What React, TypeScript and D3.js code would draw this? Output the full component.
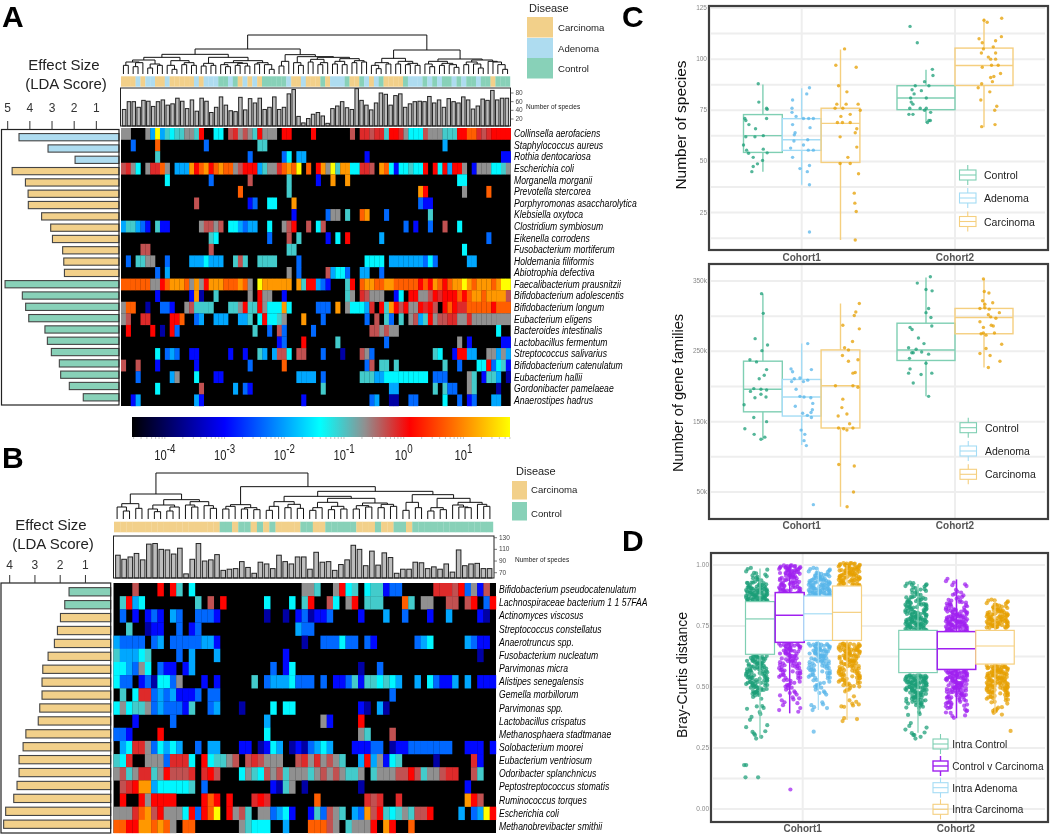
import React from 'react';
import * as d3 from 'd3';

// ---- palette ----
const CARC = '#f2d08a';
const ADEN = '#aedcf0';
const CTRL = '#88d1b8';
const groupFill: Record<string, string> = { C: CARC, A: ADEN, N: CTRL };
const SANS = "'Liberation Sans', Arial, sans-serif";

// abundance colour map: log10 relative abundance -> colour
const colorLogs = [-4.55, -3.0, -1.4, -0.65, 0.1, 1.78];
const colorHex = ['#000000', '#0000ff', '#00ffff', '#909090', '#ff0000', '#ffff00'];
// one letter per abundance class (log10 value)
const abundanceCode: Record<string, number> = {
  d: -3.55, b: -2.95, a: -2.35, l: -1.95, c: -1.45, t: -1.05, g: -0.65,
  m: -0.32, r: -0.12, R: 0.12, o: 0.72, O: 1.1, y: 1.78,
};

// ---- panel A ----
const speciesA = [
  'Collinsella aerofaciens', 'Staphylococcus aureus', 'Rothia dentocariosa', 'Escherichia coli',
  'Morganella morganii', 'Prevotella stercorea', 'Porphyromonas asaccharolytica', 'Klebsiella oxytoca',
  'Clostridium symbiosum', 'Eikenella corrodens', 'Fusobacterium mortiferum', 'Holdemania filiformis',
  'Abiotrophia defectiva', 'Faecalibacterium prausnitzii', 'Bifidobacterium adolescentis',
  'Bifidobacterium longum', 'Eubacterium eligens', 'Bacteroides intestinalis', 'Lactobacillus fermentum',
  'Streptococcus salivarius', 'Bifidobacterium catenulatum', 'Eubacterium hallii',
  'Gordonibacter pamelaeae', 'Anaerostipes hadrus',
];
const ldaA = [4.49, 3.18, 1.96, 4.8, 4.2, 4.08, 4.07, 3.47, 3.06, 2.98, 2.52, 2.47, 2.44, 5.12, 4.34, 4.19, 4.05, 3.32, 3.21, 3.03, 2.67, 2.61, 2.22, 1.59];
const ldaGroupA = 'AAACCCCCCCCCCNNNNNNNNNNN';
const annotA = 'CCCACAACCACCCCCACAAANNANCACACNNNNNACCACCCNCAAANCCNACANCCCCNAAANANANNANANNANNCNNN';
const richnessA = [42, 60, 60, 47, 63, 61, 49, 60, 64, 52, 55, 68, 61, 44, 64, 38, 68, 61, 35, 47, 71, 52, 39, 37, 70, 41, 67, 57, 68, 42, 47, 71, 42, 47, 78, 88, 26, 11, 21, 31, 35, 27, 10, 44, 50, 60, 46, 42, 90, 63, 52, 41, 57, 80, 77, 52, 74, 78, 47, 55, 60, 61, 60, 72, 57, 64, 47, 67, 60, 57, 71, 64, 43, 50, 66, 63, 86, 64, 68, 68];
const heatA = [
  '0:gg 5:glyl 9:tctt 13:ggt 16:R 19:cc 22:mrgmgt 28:R 29:ggg 33:RR 39:R 47:m 49:rrmrr 54:t 55:RRr 58:g 59:ccc 62:m 63:gggt 67:tt 69:RR 71:oo 73:rmr 76:RRRR',
  '2:a 7:o 17:a 28:tt 66:l',
  '7:t 26:a 33:ac 36:ll 50:b 78:bb',
  '0:mrg 3:c 5:grrog 11:lll 14:O 15:Ro 17:O 18:R 19:oOoo 23:gm 25:RRR 28:lt 30:gg 32:r 33:oOo 36:y 38:o 40:RO 42:g 43:y 44:t 45:OO 47:cc 49:rrm 53:O 54:o 55:cb 57:cctcc 62:R 64:R 65:c 66:R 67:l 68:RR 70:g 72:b 73:ggg 76:cc 78:tg',
  '9:c 18:a 26:m 34:t 40:b 43:O 46:O 69:cc',
  '24:o 34:t 61:OR 70:g 75:o',
  '15:m 26:ba 30:cc 35:O 61:abb',
  '35:b 42:agg 46:t 49:oO 54:a 63:t',
  '0:lttlab 7:t 8:bb 16:gmmgm 22:cc 24:lall 30:c 33:gmR 38:m 40:cm 58:a 60:b 63:a 66:m 69:c',
  '18:tc 30:a 34:m 36:t 42:b 44:c 46:R 53:l 75:a',
  '4:mm 18:m 34:tt 70:c',
  '1:a 3:ttgg 9:a 14:lllclll 23:tmt 28:tttt 36:a 50:cccc 55:lllllll 62:aca 71:ll',
  '7:a 9:l 34:g 36:a 42:m 43:lcca 49:ll 53:a',
  '0:oooooo 6:gg 8:Ro 10:OOOo 14:gOg 17:RO 19:OOo 22:ooOo 26:g 28:y 29:OOOOOO 36:Ot 38:RR 40:lab 46:tR 49:oOOooOOoooooRoROoRoOOyOoOOOoOyy',
  '7:b 14:bOd 19:t 26:g 28:Rgg 33:b 46:tg 49:rmggg 56:bc 59:RR 61:ggm 64:RrR 67:RRoR 71:oOOoOOOOm',
  '0:goo 5:d 8:aa 10:b 13:gm 15:tttt 22:ttg 25:R 26:tt 28:Rg 30:ccc 33:Oc 40:aaa 44:O 46:g 47:cccl 51:r 53:RtORmRgg 61:RrRm 66:RoRrroooooRooo',
  '0:gm 4:rr 10:RRo 15:al 19:lll 24:ll 26:t 28:cRcc 32:tg 37:O 41:a 50:a 52:m 54:ta 57:t 59:gmlt 63:Rgm 66:mrrggrgggggggg',
  '1:R 6:R 8:d 10:Ra 27:t 30:a 32:ma 39:a 51:mmgmgg 77:c',
  '32:ba 37:R 44:t 54:a 69:g 71:b 78:bb',
  '7:c 9:ala 14:bb 22:b 25:b 28:tl 31:lmmc 36:mm 41:a 45:d 49:mga 64:tc 68:b 69:RR 71:ll 75:gglgl',
  '0:m 3:m 7:b 15:b 26:a 33:o 50:am 53:tt 56:t 66:t 69:a 73:ccRactb',
  '3:a 10:lg 15:c 19:bb 36:llll 41:a 49:tttllccccccccc 64:aaa 71:gt 74:bttl 79:d',
  '7:c 16:m 23:l 25:ab 41:t 55:ll 64:t 66:t 67:aa 71:gt 77:d',
  '2:bl 15:lb 37:b 51:al 55:dd 59:aa 66:c 69:a 71:ba 76:ll',
];
// [merge height, ...children], 0 = leaf
const treeA: any = [117,
  [75,
    [59,
      [50,
        [42, [36, [26, 0, 0], [34, [22, 0, 0], 0]], [30, [18, 0, 0], [26, 0, 0]]],
        [40, [26, 0, [14, 0, 0]], [34, [28, 0, 0], [26, 0, 0]]]],
      [50,
        [32, [24, 0, 0], [26, 0, 0]],
        [40, [34, [28, 0, [22, 0, 0]], [32, [26, 0, 0], [24, 0, 0]]], [34, [30, 0, 0], [28, 0, [14, 0, 0]]]]]],
    [58,
      [38, [24, 0, 0], 0],
      [52, [34, 0, [26, 0, 0]],
        [50, [44, [36, 0, 0], [34, [28, 0, 0], 0]],
          [46, [38, [30, 0, 0], [28, 0, 0]], [40, [34, 0, 0], [36, 0, 0]]]]]]],
  [72,
    [47, [34, [26, 0, [16, 0, 0]], [30, 0, 0]], [38, [30, 0, 0], [32, [28, 0, 0], [26, 0, 0]]]],
    [45, [38, [30, 0, [22, 0, 0]], [32, [26, 0, 0], [28, 0, [20, 0, 0]]]],
      [42, [36, [28, 0, 0], [30, 0, [18, 0, 0]]], [38, 0, [36, 0, [28, 0, [14, 0, 0]]]]]]]];

// ---- panel B ----
const speciesB = [
  'Bifidobacterium pseudocatenulatum', 'Lachnospiraceae bacterium 1 1 57FAA', 'Actinomyces viscosus',
  'Streptococcus constellatus', 'Anaerotruncus spp.', 'Fusobacterium nucleatum', 'Parvimonas micra',
  'Alistipes senegalensis', 'Gemella morbillorum', 'Parvimonas spp.', 'Lactobacillus crispatus',
  'Methanosphaera stadtmanae', 'Solobacterium moorei', 'Eubacterium ventriosum', 'Odoribacter splanchnicus',
  'Peptostreptococcus stomatis', 'Ruminococcus torques', 'Escherichia coli', 'Methanobrevibacter smithii',
];
const ldaB = [1.65, 1.82, 1.99, 2.11, 2.23, 2.48, 2.69, 2.72, 2.72, 2.81, 2.87, 3.36, 3.47, 3.63, 3.63, 3.71, 3.84, 4.16, 4.24];
const ldaGroupB = 'NNCCCCCCCCCCCCCCCCC';
const annotB = 'CCCCCCCCCCCCCCCCCNNCNNCNCNCCCCNNCCNNNNNCCCNCCNNCNNNNNNNNNNNNN';
const richnessB = [100, 93, 97, 103, 92, 119, 120, 110, 109, 102, 112, 68, 93, 120, 90, 92, 101, 74, 76, 77, 89, 79, 69, 88, 85, 77, 100, 89, 85, 97, 97, 76, 105, 88, 89, 74, 84, 92, 117, 110, 82, 107, 83, 104, 96, 69, 76, 76, 88, 87, 77, 80, 76, 85, 71, 109, 82, 85, 86, 77, 77];
const heatB = [
  '3:m 7:R 9:Rt 12:c 30:ggt 35:gRct 40:ctt 43:baa 51:rrrm 55:Ragbm',
  '1:tRlc 13:t 15:m 17:R 24:c 28:c 30:tR 34:mc 37:gR 40:ttt 46:ot 49:gg 53:mm 56:mR 59:aR',
  '1:a 3:b 5:bab 9:la 13:aaa 16:b 24:d 27:d 29:bad 32:bba 39:b 43:l 46:a 50:b 53:l 58:bd',
  '2:t 5:dbb 10:a 12:ba 29:laa',
  '0:laaaa 6:al 9:aaaaallb 30:d 33:aaa 36:caa 40:ab 48:alc 56:labb',
  '0:tlllct 10:a 12:l 16:l 27:b 58:d',
  '0:cclagc 7:abb 11:bl 25:a 27:bc 39:d 42:a',
  '0:caa 4:bad 7:ccag 14:b 16:b 22:t 24:alllcaaa 33:a 35:bba 38:tbttctcl 48:l 50:cabb 54:l 56:l 58:bbb',
  '1:t 3:crralal 10:bbba 15:aa 44:a',
  '0:cgcttgalaaabt 15:al 20:d 25:c 27:cc 39:bd 42:ld',
  '3:b 9:a 24:l 33:gb 39:R',
  '0:aab 7:R 24:c 39:gt 44:m',
  '1:lcrrgaclcl 13:a 15:ll 20:bb 23:db 25:cl 28:dbd 31:alcl 38:bbbaa 44:d 45:bbaaaaaaa 56:bbb 60:b',
  '0:tc 2:r 5:ggg 8:arrr 12:c 14:R 15:ct 17:tgm 21:mrmggg 29:mrgrgmg 36:t 39:lR 41:lgbct 51:d 57:r 58:b',
  '0:gmtgrr 6:tgRmmmr 14:rRm 20:c 21:gtc 24:mg 26:mt 28:gggtgmgmgttg 41:t 42:gggmmRmtg 51:gmrr 57:m 58:t',
  '1:mrROO 6:lccccct 14:a 25:bd 27:tg 30:d 39:d 56:b',
  '1:R 4:RgRRRR 14:RoR 18:R 22:rRr 32:o 40:rmr 45:r 56:ORm',
  '0:gggroOmRgggcRaRoy 18:Rgmt 23:gg 25:alcb 31:btamgt 38:laOmRtctgtmmR 55:l 57:alyR',
  '0:ooRROOoOog 11:oo 20:gtccc 27:l 31:ooomg 37:t 38:ggg 41:R 43:OR 47:o',
];
const treeB: any = [138,
  [75,
    [46, [36, 0, [24, 0, 0]], [32, 0, 0]],
    [58, [42, [30, 0, [22, 0, 0]], [36, [24, 0, 0], 0]], [52, [42, 0, [36, 0, 0]], [40, 0, [32, 0, 0]]]]],
  [97,
    [43, [38, [30, 0, 0], 0], [34, [30, 0, 0], [28, 0, 0]]],
    [83,
      [68,
        [52, [38, [26, 0, 0], 0], [44, [34, 0, 0], [32, 0, 0]]],
        [62, [50, [34, [26, 0, 0], 0], [38, [28, 0, 0], [30, 0, 0]]],
          [48, [40, [30, 0, 0], [36, 0, 0]], [44, [34, 0, 0], [38, 0, 0]]]]],
      [73,
        [50, [26, 0, 0], [34, 0, 0]],
        [62, [34, [24, 0, 0], [28, 0, 0]], [50, [42, 0, [36, 0, [34, 0, 0]]], [44, 0, [38, 0, 0]]]]]]]];

// ---- panel C ----
// box stats: [low whisker, q1, median, q3, high whisker]
const speciesBoxC1 = [[44.9, 54.4, 62.6, 72.9, 87.6], [38.6, 55.4, 60.6, 70.9, 85.8], [11.6, 49.5, 68.6, 76, 104.7]];
const speciesBoxC2 = [[68.8, 75.3, 81, 87, 94.8], [66.7, 87.1, 96.9, 105.4, 119.8]];
const geneBoxC1 = [[124, 164, 196, 236, 332], [117, 158, 185, 210, 261], [29, 141, 201, 252, 318]];
const geneBoxC2 = [[186, 237, 252, 290, 355], [227, 275, 298, 311, 353]];
// points: [jitter in box half-widths, value]
const speciesPtsC1 = [
  [[-.24, 88], [-.21, 79], [.19, 76], [.22, 75.5], [.19, 71], [-.93, 71], [-.88, 70], [-.72, 68], [-.38, 66], [-.88, 62], [-.41, 62], [.02, 62.6], [-1, 58], [-.84, 55.5], [-.74, 54], [.02, 56], [.22, 54.2], [-.5, 52], [-.02, 50.5], [-.28, 48.8], [-.5, 47.5], [-.57, 45]],
  [[.4, 86], [.26, 83], [-.47, 80], [-.5, 76], [-.5, 74], [-.29, 72], [.09, 71], [.36, 71], [.6, 71], [-.47, 68], [.43, 66.5], [-.34, 64], [-.38, 63], [.31, 60.6], [-.4, 60], [.09, 58], [-.57, 56.5], [.34, 55.5], [.6, 55.5], [-.47, 52], [-.09, 46.5], [.4, 48], [.29, 45], [.4, 38.6], [.4, 15.5]],
  [[.21, 105], [-.24, 97], [.81, 96], [-.1, 87], [.33, 84], [-.19, 78], [.29, 78], [.91, 78], [-.28, 76], [.12, 76], [1.02, 75], [.5, 73], [.02, 72], [-.16, 69], [.1, 69], [.5, 69], [.84, 66], [.76, 64], [-.02, 62], [.84, 57], [.38, 52], [-.02, 49], [.5, 49], [.93, 44], [.71, 34.5], [.74, 29.6], [.81, 25.5], [.76, 11.6]],
];
const speciesPtsC2 = [
  [[-.55, 116], [-.3, 108], [.22, 95], [.24, 92], [-.05, 89], [-.37, 87], [.1, 87], [-.48, 85], [-.16, 84.6], [-.41, 83], [-.53, 81], [.01, 81], [-.51, 79], [-.45, 78], [-.56, 76], [-.2, 76], [.01, 76], [-.05, 75], [.16, 74], [-.59, 73], [-.45, 73], [.15, 70], [.05, 69], [.1, 70]],
  [[.61, 120], [0, 119], [.11, 118], [.6, 111], [-.17, 110], [-.06, 108], [.4, 109], [.32, 106], [-.02, 105], [.4, 103], [-.09, 103], [.15, 101], [.23, 100], [.4, 100], [-.06, 96], [.26, 97], [.49, 97], [.57, 93], [.34, 91.5], [.23, 91], [.29, 89], [-.08, 88], [-.2, 86], [.2, 84], [-.11, 80], [.44, 77], [.37, 75], [.38, 68], [-.08, 67]],
];
const genePtsC1 = [
  [[-.07, 332], [.02, 304], [-.4, 268], [.24, 259], [-.05, 251], [-.67, 238], [-.33, 235], [.19, 224], [.07, 216], [-.19, 211], [-.47, 197], [-.1, 196], [.19, 195], [-.64, 193], [-.1, 189], [-.41, 184], [.16, 185], [-.97, 174], [-.47, 156], [.19, 150], [-.93, 140], [-.45, 132], [.1, 128], [-.1, 125]],
  [[.31, 261], [-.55, 225], [-.47, 221], [.5, 224], [-.38, 211], [-.52, 207], [-.09, 212], [.31, 209], [.09, 207], [-.29, 196], [-.09, 186], [.12, 185], [.47, 184], [-.33, 172], [.57, 176], [.05, 162], [.55, 167], [.48, 163], [.29, 159], [.5, 156], [-.03, 138], [.16, 132], [.12, 123], [.24, 116], [.6, 32]],
  [[.97, 318], [.79, 306], [.71, 301], [.12, 287], [.97, 282], [.62, 264], [.21, 255], [.41, 252], [.1, 244], [.41, 236], [.9, 238], [.76, 220], [.64, 219], [-.26, 201], [.64, 201], [.9, 199], [.12, 182], [.07, 170], [.33, 161], [-.12, 158], [.47, 147], [-.1, 141], [.16, 140], [.33, 138], [.64, 141], [-.09, 89], [.71, 87], [.67, 50], [.34, 29]],
];
const genePtsC2 = [
  [[.15, 356], [-.3, 347], [0, 338], [.21, 336], [.09, 311], [0, 305], [.17, 298], [.2, 286], [-.55, 284], [-.48, 281], [-.26, 269], [-.07, 261], [-.6, 255], [-.34, 253], [-.44, 248], [-.15, 249], [-.49, 248], [.09, 246], [-.57, 240], [0, 233], [-.55, 225], [-.6, 219], [-.17, 217], [.2, 219], [-.44, 205], [.09, 186]],
  [[-.02, 353], [.01, 335], [.17, 333], [-.05, 322], [.3, 319], [.03, 317], [-.14, 311], [.03, 312], [.18, 310], [.53, 305], [.15, 302], [.23, 299], [.41, 297], [-.14, 292], [-.02, 284], [.25, 287], [.32, 286], [-.02, 276], [.36, 276], [-.1, 275], [.07, 273], [.61, 260], [.07, 254], [-.14, 247], [.21, 244], [.55, 236], [.15, 227]],
];

// ---- panel D ----
const brayBoxC1 = [[.29, .634, .779, .85, .986], [.392, .683, .794, .887, 1], [.406, .691, .8, .873, .986], [.365, .691, .806, .914, 1]];
const brayBoxC2 = [[.313, .559, .654, .732, .922], [.372, .572, .657, .727, .941], [.392, .594, .668, .732, .854]];
// point clouds: [distance level, how many points sit there]
const brayRowsC1 = [
  [[.98, 4], [.96, 6], [.94, 6], [.92, 14], [.9, 20], [.88, 22], [.86, 22], [.62, 14], [.6, 14], [.58, 14], [.56, 14], [.54, 14], [.52, 14], [.5, 12], [.48, 10], [.46, 4], [.415, 4], [.39, 2], [.37, 2], [.34, 2], [.315, 3], [.295, 3]],
  [[.99, 18], [.97, 16], [.95, 13], [.93, 13], [.91, 13], [.89, 14], [.67, 16], [.65, 12], [.63, 11], [.61, 10], [.59, 10], [.57, 9], [.55, 8], [.53, 7], [.51, 6], [.49, 4], [.47, 4], [.45, 4], [.43, 3], [.41, 2], [.395, 1]],
  [[.98, 7], [.96, 12], [.94, 16], [.92, 18], [.9, 20], [.88, 22], [.67, 15], [.65, 14], [.63, 13], [.61, 12], [.59, 10], [.57, 10], [.55, 8], [.53, 6], [.51, 6], [.49, 4], [.47, 3], [.43, 3], [.41, 3]],
  [[1, 18], [.98, 18], [.96, 18], [.94, 18], [.92, 14], [.67, 18], [.65, 18], [.63, 15], [.61, 14], [.59, 12], [.57, 12], [.55, 12], [.53, 10], [.51, 10], [.49, 4], [.47, 1], [.44, 2], [.425, 5], [.365, 3]],
];
const brayRowsC2 = [
  [[.92, 8], [.9, 7], [.88, 6], [.86, 12], [.84, 14], [.82, 14], [.8, 16], [.78, 20], [.76, 22], [.74, 18], [.54, 22], [.52, 22], [.5, 18], [.48, 16], [.46, 13], [.44, 12], [.42, 6], [.39, 3], [.345, 2], [.33, 2], [.31, 3], [.295, 3]],
  [[.94, 2], [.92, 4], [.89, 4], [.87, 5], [.85, 8], [.83, 9], [.81, 14], [.79, 18], [.77, 22], [.75, 22], [.73, 18], [.56, 22], [.54, 20], [.52, 17], [.5, 16], [.48, 14], [.46, 12], [.44, 9], [.42, 7], [.4, 5], [.38, 3]],
  [[.85, 7], [.83, 10], [.81, 14], [.79, 18], [.77, 20], [.75, 20], [.58, 20], [.56, 20], [.54, 20], [.52, 18], [.5, 18], [.48, 14], [.46, 10], [.44, 5], [.41, 6], [.395, 3]],
];
const brayOutliersC1 = [[[-.9, .18], [-.75, .18], [-.8, .13], [.1, .13]], [[.05, .08]], [[-.4, .317]], []];
const brayOutliersC2 = [[], [], [[.95, .32]]];
const jitterTable = [-.82, .34, -.15, .91, -.47, .63, .08, -.96, .27, -.33, .78, -.61, .5, -.05, .96, -.72, .18, -.24, .7, -.88, .42, -.53, .86, .01, -.38];
const offsetTable = [.4, -.7, .1, .9, -.3, -.9, .6, -.1, .8, -.5];

// ---- shared helpers ----
const colorOf = d3.scaleLinear<string>().domain(colorLogs).range(colorHex).interpolate(d3.interpolateRgb).clamp(true);

function parseRow(row: string) {
  const cells: { col: number; code: string }[] = [];
  row.split(' ').forEach((run) => {
    const [start, codes] = run.split(':');
    codes.split('').forEach((code, i) => cells.push({ col: +start + i, code }));
  });
  return cells;
}

const Heatmap = ({ rows, nCols, x0, x1, y0, y1 }: any) => {
  const x = d3.scaleBand<number>().domain(d3.range(nCols)).range([x0, x1]);
  const y = d3.scaleBand<number>().domain(d3.range(rows.length)).range([y0, y1]);
  return (
    <g>
      <rect x={x0} y={y0} width={x1 - x0} height={y1 - y0} fill="#000" />
      {rows.map((r: string, i: number) => parseRow(r).map((c) => (
        <rect key={`${i}-${c.col}`} x={x(c.col)} y={y(i)} width={x.bandwidth() + 0.2} height={y.bandwidth() + 0.2} fill={colorOf(abundanceCode[c.code])} />
      )))}
    </g>
  );
};

const Dendrogram = ({ tree, nLeaves, x0, x1, yBase, yTop }: any) => {
  const root = d3.hierarchy<any>(tree, (d) => (Array.isArray(d) ? d.slice(1) : null));
  const x = d3.scaleBand<number>().domain(d3.range(nLeaves)).range([x0, x1]);
  const y = d3.scaleLinear().domain([0, tree[0]]).range([yBase, yTop]);
  const pos = new Map<any, number>();
  root.leaves().forEach((leaf, i) => pos.set(leaf, (x(i) as number) + x.bandwidth() / 2));
  const h = (n: any) => (n.children ? n.data[0] : 0);
  const paths: string[] = [];
  root.eachAfter((n: any) => {
    if (!n.children) return;
    const xs = n.children.map((c: any) => pos.get(c));
    pos.set(n, (xs[0] + xs[xs.length - 1]) / 2);
    const path = d3.path();
    n.children.forEach((c: any) => {
      path.moveTo(pos.get(c) as number, y(h(c)));
      path.lineTo(pos.get(c) as number, y(n.data[0]));
    });
    path.moveTo(xs[0], y(n.data[0]));
    path.lineTo(xs[xs.length - 1], y(n.data[0]));
    paths.push(path.toString());
  });
  return <path d={paths.join('')} fill="none" stroke="#111" strokeWidth={1} />;
};

const AnnotBar = ({ groups, x0, x1, y0, y1 }: any) => {
  const x = d3.scaleBand<number>().domain(d3.range(groups.length)).range([x0, x1]);
  return (
    <g>
      {groups.split('').map((g: string, i: number) => (
        <rect key={i} x={x(i)} y={y0} width={x.bandwidth() + 0.2} height={y1 - y0} fill={groupFill[g]} />
      ))}
    </g>
  );
};

const RichnessBars = ({ values, x0, x1, top, bottom, domain, range, ticks, barPad }: any) => {
  const x = d3.scaleBand<number>().domain(d3.range(values.length)).range([x0 + 0.5, x1 - 0.5]).padding(barPad);
  const y = d3.scaleLinear().domain(domain).range(range);
  return (
    <g>
      {values.map((v: number, i: number) => (
        <rect key={i} x={x(i)} y={y(v)} width={x.bandwidth()} height={bottom - y(v)} fill="#bdbdbd" stroke="#222" strokeWidth={1} />
      ))}
      <rect x={x0} y={top} width={x1 - x0} height={bottom - top} fill="none" stroke="#222" strokeWidth={1} />
      {ticks.map((t: number) => (
        <g key={t}>
          <line x1={x1} x2={x1 + 3} y1={y(t)} y2={y(t)} stroke="#444" strokeWidth={0.7} />
          <text x={x1 + 5} y={y(t) + 2} fontSize={6.5} fill="#444" fontFamily={SANS}>{t}</text>
        </g>
      ))}
    </g>
  );
};

const LdaBars = ({ values, groups, ticks, x0, x1, y0, y1, domainMax, axisLeft, axisRight, tickTop, labelY }: any) => {
  const x = d3.scaleLinear().domain([0, domainMax]).range([axisRight, axisLeft]);
  const y = d3.scaleBand<number>().domain(d3.range(values.length)).range([y0, y1]).padding(0.36);
  return (
    <g>
      {values.map((v: number, i: number) => (
        <rect key={i} x={x(v)} y={y(i)} width={x1 - x(v)} height={y.bandwidth()} fill={groupFill[groups[i]]} stroke="#444" strokeWidth={1.1} />
      ))}
      <rect x={x0} y={y0} width={x1 - x0} height={y1 - y0} fill="none" stroke="#222" strokeWidth={1.2} />
      {ticks.map((t: number) => (
        <g key={t}>
          <line x1={x(t)} x2={x(t)} y1={tickTop} y2={y0} stroke="#333" strokeWidth={1} />
          <text x={x(t)} y={labelY} textAnchor="middle" fontSize={12} fill="#333" fontFamily={SANS}>{t}</text>
        </g>
      ))}
    </g>
  );
};

const SpeciesLabels = ({ names, x, y0, y1 }: any) => {
  const y = d3.scaleBand<number>().domain(d3.range(names.length)).range([y0, y1]);
  return (
    <g>
      {names.map((n: string, i: number) => (
        <text key={n} transform={`translate(${x},${(y(i) as number) + y.bandwidth() / 2 + 3.5}) scale(0.83,1)`} fontSize={10.4} fontStyle="italic" fill="#000" fontFamily={SANS}>{n}</text>
      ))}
    </g>
  );
};

const Colorbar = ({ x0, x1, y0, y1 }: any) => {
  // 60px per decade
  const scale = d3.scaleLinear().domain(d3.extent(colorLogs) as [number, number]).range([x0, x1]);
  const minor = d3.range(-5, 2).flatMap((d) => d3.range(1, 10).map((m) => d + Math.log10(m))).filter((v) => v >= -4.55 && v <= 1.78);
  return (
    <g>
      <defs>
        <linearGradient id="abundance" x1="0" x2="1" y1="0" y2="0">
          {colorLogs.map((v, i) => (
            <stop key={v} offset={(v - colorLogs[0]) / (colorLogs[colorLogs.length - 1] - colorLogs[0])} stopColor={colorHex[i]} />
          ))}
        </linearGradient>
      </defs>
      <rect x={x0} y={y0} width={x1 - x0} height={y1 - y0} fill="url(#abundance)" />
      {minor.map((v) => (
        <line key={v} x1={scale(v)} x2={scale(v)} y1={y1} y2={y1 + 2} stroke="#aaa" strokeWidth={0.7} />
      ))}
      {[-4, -3, -2, -1, 0, 1].map((e) => (
        <text key={e} transform={`translate(${scale(e)},460) scale(0.75,1)`} textAnchor="middle" fontSize={15} fill="#222" fontFamily={SANS}>
          10<tspan dy={-7} fontSize={13}>{e}</tspan>
        </text>
      ))}
    </g>
  );
};

const BoxGlyph = ({ cx, width, stats, y, color, sw, fill }: any) => {
  const [lo, q1, med, q3, hi] = stats;
  return (
    <g stroke={color} strokeWidth={sw}>
      <line x1={cx} x2={cx} y1={y(hi)} y2={y(q3)} />
      <line x1={cx} x2={cx} y1={y(q1)} y2={y(lo)} />
      <rect x={cx - width / 2} y={y(q3)} width={width} height={y(q1) - y(q3)} fill={fill} />
      <line x1={cx - width / 2} x2={cx + width / 2} y1={y(med)} y2={y(med)} />
    </g>
  );
};

const PanelFrame = ({ x0, x1, y0, y1, y, ticks, minor, format, cohortX, title, titleX, titleY, titleSize, labelY }: any) => (
  <g>
    {minor.map((t: number) => <line key={t} x1={x0 + 2} x2={x1 - 3} y1={y(t)} y2={y(t)} stroke="#eeeeee" strokeWidth={2} />)}
    {ticks.map((t: number) => <line key={t} x1={x0 + 2} x2={x1 - 3} y1={y(t)} y2={y(t)} stroke="#eeeeee" strokeWidth={2} />)}
    {cohortX.map((cx: number) => <line key={cx} x1={cx} x2={cx} y1={y0} y2={y1} stroke="#eeeeee" strokeWidth={2} />)}
    {ticks.map((t: number) => (
      <text key={t} x={x0 - 2} y={y(t) + 2} textAnchor="end" fontSize={6.5} fill="#888" fontFamily={SANS}>{format(t)}</text>
    ))}
    <rect x={x0} y={y0} width={x1 - x0} height={y1 - y0} fill="none" stroke="#3f3f3f" strokeWidth={2.2} />
    {['Cohort1', 'Cohort2'].map((c, i) => (
      <text key={c} x={cohortX[i]} y={labelY} textAnchor="middle" fontSize={10} fontWeight="bold" fill="#555" fontFamily={SANS}>{c}</text>
    ))}
    <text transform={`translate(${titleX},${titleY}) rotate(-90)`} textAnchor="middle" fontSize={titleSize} fill="#111" fontFamily={SANS}>{title}</text>
  </g>
);

const BoxLegend = ({ items, iconX, iconW, textX, ys, size }: any) => (
  <g>
    {items.map((it: any, i: number) => (
      <g key={it.name}>
        <BoxGlyph cx={iconX + iconW / 2} width={iconW} stats={[-10, -5, 0, 5, 10]} y={(v: number) => ys[i] - v} color={it.color} sw={it.sw || 1.1} fill="none" />
        <text x={textX} y={ys[i] + 4} fontSize={size} fill="#222" fontFamily={SANS}>{it.name}</text>
      </g>
    ))}
  </g>
);

const GREEN = '#1b9e77';
const BLUE = '#56b4e9';
const ORANGE = '#e69f00';
const PURPLE = '#a020f0';
const GREEN_LINE = '#7fcfb3';
const BLUE_LINE = '#a5dcf5';
const ORANGE_LINE = '#f5cf7f';

const cCohort = d3.scalePoint<string>().domain(['Cohort1', 'Cohort2']).range([801.7, 955]);

const RichnessPanel = ({ y, boxes1, boxes2, pts1, pts2 }: any) => {
  const colors = [GREEN, BLUE, ORANGE];
  const lines = [GREEN_LINE, BLUE_LINE, ORANGE_LINE];
  const cx1 = cCohort('Cohort1') as number;
  const cx2 = cCohort('Cohort2') as number;
  const w1 = 38.8;
  const w2 = 58;
  return (
    <g>
      {boxes1.map((b: number[], i: number) => {
        const cx = cx1 + (i - 1) * w1;
        return (
          <g key={i}>
            <BoxGlyph cx={cx} width={w1} stats={b} y={y} color={lines[i]} sw={1.4} fill="none" />
            {pts1[i].map((p: number[], k: number) => (
              <circle key={k} cx={cx + p[0] * (w1 / 2)} cy={y(p[1])} r={1.7} fill={colors[i]} fillOpacity={0.75} />
            ))}
          </g>
        );
      })}
      {boxes2.map((b: number[], i: number) => {
        const cx = cx2 + (i - 0.5) * w2;
        const c = i === 0 ? 0 : 2;
        return (
          <g key={i}>
            <BoxGlyph cx={cx} width={w2} stats={b} y={y} color={lines[c]} sw={1.4} fill="none" />
            {pts2[i].map((p: number[], k: number) => (
              <circle key={k} cx={cx + p[0] * (w2 / 2)} cy={y(p[1])} r={1.7} fill={colors[c]} fillOpacity={0.75} />
            ))}
          </g>
        );
      })}
    </g>
  );
};

const BrayGroup = ({ cx, cloudX, width, stats, rows, outliers, y, color, line, sw }: any) => (
  <g>
    {rows.flatMap((r: number[], ri: number) => d3.range(r[1]).map((k) => (
      <circle
        key={`${ri}-${k}`}
        cx={cloudX + jitterTable[(k * 7 + ri * 3) % jitterTable.length] * 11}
        cy={y(r[0] + offsetTable[(k + ri) % offsetTable.length] * 0.009)}
        r={2.1}
        fill={color}
        fillOpacity={0.72}
      />
    )))}
    {outliers.map((p: number[], k: number) => (
      <circle key={k} cx={cloudX + p[0] * 14} cy={y(p[1])} r={2.1} fill={color} fillOpacity={0.72} />
    ))}
    <BoxGlyph cx={cx} width={width} stats={stats} y={y} color={line} sw={sw} fill="#fff" />
  </g>
);

export default function App() {
  const ySpecies = d3.scaleLinear().domain([0, 125]).range([263.7, 8]);
  const yGenes = d3.scaleLinear().domain([50, 350]).range([492, 281]);
  const yBray = d3.scaleLinear().domain([0, 1]).range([809, 565]);

  const dColors = [GREEN, PURPLE, BLUE, ORANGE];
  const dLines = [GREEN_LINE, PURPLE, BLUE_LINE, ORANGE_LINE];
  const dSw = [1.2, 1.5, 1.2, 1.2];
  const dColors2 = [GREEN, PURPLE, ORANGE];
  const dLines2 = [GREEN_LINE, PURPLE, ORANGE_LINE];
  const dSw2 = [1.2, 1.5, 1.2];
  const dCx = [760, 789.7, 818.3, 847];
  const dCx2 = [918, 956.5, 995];
  const cloudShift = [-3.3, 0, 1, 2.3];
  const cloudShift2 = [-2, 0, 2.3];

  const boxItems = [
    { name: 'Control', color: GREEN_LINE },
    { name: 'Adenoma', color: BLUE_LINE },
    { name: 'Carcinoma', color: ORANGE_LINE },
  ];

  return (
    <svg width={1050} height={834} viewBox="0 0 1050 834" style={{ position: 'absolute', left: 0, top: 0, background: '#fff', filter: 'blur(0.35px)' }}>
      {/* panel letters */}
      {[['A', 2, 27.3], ['B', 2, 468], ['C', 622, 27.3], ['D', 622, 551]].map(([l, x, y]: any) => (
        <text key={l} x={x} y={y} fontSize={30} fontWeight="bold" fill="#000" fontFamily={SANS}>{l}</text>
      ))}

      {/* A */}
      <text x={64} y={70} textAnchor="middle" fontSize={15} fill="#222" fontFamily={SANS}>Effect Size</text>
      <text x={66} y={89} textAnchor="middle" fontSize={15} fill="#222" fontFamily={SANS}>(LDA Score)</text>
      <LdaBars values={ldaA} groups={ldaGroupA} ticks={[5, 4, 3, 2, 1]} x0={1.5} x1={119} y0={129.5} y1={405} domainMax={5} axisLeft={7.7} axisRight={118.5} tickTop={121} labelY={112} />
      <Dendrogram tree={treeA} nLeaves={80} x0={121} x1={510} yBase={74} yTop={35} />
      <AnnotBar groups={annotA} x0={121} x1={510} y0={76.3} y1={86.7} />
      <RichnessBars values={richnessA} x0={120.5} x1={510.5} top={88} bottom={126} domain={[20, 80]} range={[119, 93]} ticks={[80, 60, 40, 20]} barPad={0.28} />
      <text x={526} y={109} fontSize={6.5} fill="#222" fontFamily={SANS}>Number of species</text>
      <Heatmap rows={heatA} nCols={80} x0={121} x1={510.7} y0={128} y1={406} />
      <SpeciesLabels names={speciesA} x={514} y0={128} y1={406} />
      <text x={529} y={12} fontSize={11} fill="#222" fontFamily={SANS}>Disease</text>
      {[['Carcinoma', CARC, 17], ['Adenoma', ADEN, 38], ['Control', CTRL, 58]].map(([n, c, y]: any) => (
        <g key={n}>
          <rect x={527} y={y} width={26} height={20.5} fill={c} />
          <text x={558} y={y + 14} fontSize={9.6} fill="#222" fontFamily={SANS}>{n}</text>
        </g>
      ))}

      <Colorbar x0={132} x1={510} y0={417} y1={437} />

      {/* B */}
      <text x={51} y={530} textAnchor="middle" fontSize={15} fill="#222" fontFamily={SANS}>Effect Size</text>
      <text x={53} y={549} textAnchor="middle" fontSize={15} fill="#222" fontFamily={SANS}>(LDA Score)</text>
      <LdaBars values={ldaB} groups={ldaGroupB} ticks={[4, 3, 2, 1]} x0={1} x1={110.7} y0={583} y1={833} domainMax={4} axisLeft={9.7} axisRight={110.7} tickTop={575} labelY={569} />
      <Dendrogram tree={treeB} nLeaves={61} x0={114} x1={493} yBase={519} yTop={473} />
      <AnnotBar groups={annotB} x0={114} x1={493} y0={521.7} y1={532.3} />
      <RichnessBars values={richnessB} x0={113.5} x1={494} top={536} bottom={578} domain={[70, 130]} range={[572.7, 537.7]} ticks={[130, 110, 90, 70]} barPad={0.26} />
      <text x={515} y={561.5} fontSize={6.5} fill="#222" fontFamily={SANS}>Number of species</text>
      <Heatmap rows={heatB} nCols={61} x0={113.5} x1={496} y0={583} y1={833} />
      <SpeciesLabels names={speciesB} x={499} y0={583} y1={833} />
      <text x={516} y={475} fontSize={11} fill="#222" fontFamily={SANS}>Disease</text>
      {[['Carcinoma', CARC, 481, 493], ['Control', CTRL, 502, 517]].map(([n, c, y, ty]: any) => (
        <g key={n}>
          <rect x={512} y={y} width={15} height={18.5} fill={c} />
          <text x={531} y={ty} fontSize={9.6} fill="#222" fontFamily={SANS}>{n}</text>
        </g>
      ))}

      {/* C top */}
      <PanelFrame x0={709} x1={1048} y0={6} y1={250} y={ySpecies} ticks={[25, 50, 75, 100, 125]} minor={[12.5, 37.5, 62.5, 87.5, 112.5]} format={(t: number) => `${t}`} cohortX={[801.7, 955]} title="Number of species" titleX={686} titleY={125} titleSize={15.5} labelY={261} />
      <RichnessPanel y={ySpecies} boxes1={speciesBoxC1} boxes2={speciesBoxC2} pts1={speciesPtsC1} pts2={speciesPtsC2} />
      <BoxLegend items={boxItems} iconX={959.5} iconW={16.5} textX={984} ys={[175, 198, 221.5]} size={10.5} />

      {/* C bottom */}
      <PanelFrame x0={709} x1={1048} y0={264} y1={519} y={yGenes} ticks={[50, 150, 250, 350]} minor={[100, 200, 300]} format={(t: number) => `${t}k`} cohortX={[801.7, 955]} title="Number of gene families" titleX={683} titleY={393} titleSize={14.6} labelY={529} />
      <RichnessPanel y={yGenes} boxes1={geneBoxC1} boxes2={geneBoxC2} pts1={genePtsC1} pts2={genePtsC2} />
      <BoxLegend items={boxItems} iconX={960} iconW={16.5} textX={985} ys={[427.7, 451, 474.3]} size={10.5} />

      {/* D */}
      <PanelFrame x0={711} x1={1048} y0={553} y1={822} y={yBray} ticks={[0, .25, .5, .75, 1]} minor={[.125, .375, .625, .875]} format={(t: number) => t.toFixed(2)} cohortX={[802.7, 956]} title="Bray-Curtis distance" titleX={687} titleY={675} titleSize={14} labelY={832} />
      {brayBoxC1.map((b, i) => (
        <BrayGroup key={i} cx={dCx[i]} cloudX={dCx[i] + cloudShift[i]} width={29} stats={b} rows={brayRowsC1[i]} outliers={brayOutliersC1[i]} y={yBray} color={dColors[i]} line={dLines[i]} sw={dSw[i]} />
      ))}
      {brayBoxC2.map((b, i) => (
        <BrayGroup key={i} cx={dCx2[i]} cloudX={dCx2[i] + cloudShift2[i]} width={38.5} stats={b} rows={brayRowsC2[i]} outliers={brayOutliersC2[i]} y={yBray} color={dColors2[i]} line={dLines2[i]} sw={dSw2[i]} />
      ))}
      <BoxLegend
        items={[
          { name: 'Intra Control', color: GREEN_LINE },
          { name: 'Control v Carcinoma', color: PURPLE, sw: 1.4 },
          { name: 'Intra Adenoma', color: BLUE_LINE },
          { name: 'Intra Carcinoma', color: ORANGE_LINE },
        ]}
        iconX={933} iconW={15} textX={952.3} ys={[744, 766, 787.7, 809.3]} size={10}
      />
    </svg>
  );
}
